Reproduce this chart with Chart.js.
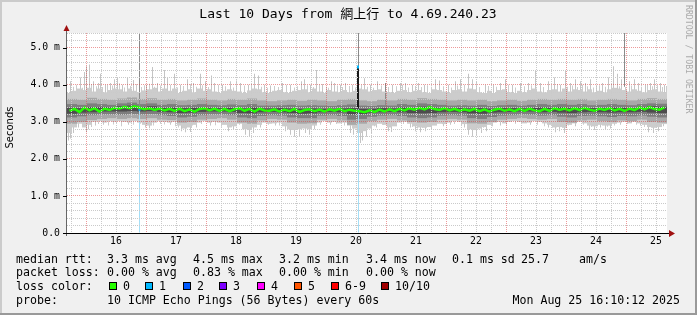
<!DOCTYPE html>
<html>
<head>
<meta charset="utf-8">
<script src="https://cdn.jsdelivr.net/npm/chart.js@4.4.1/dist/chart.umd.min.js"></script>
<style>
  html, body { margin: 0; padding: 0; background: #f0f0f0; }
  canvas { display: block; }
</style>
</head>
<body>
<canvas id="ping" width="697" height="315"></canvas>
<script>
// time is in hours from Aug 15 00:00; the graph runs Aug 15 16:24 .. Aug 25 16:24
let tStart = 16.4,
  tEnd = 256.4;

// median rtt (ms), one value per 2 h column
let median = [
  3.30, 3.35, 3.27, 3.39, 3.31, 3.37, 3.28, 3.36, 3.32, 3.38,
  3.36, 3.41, 3.37, 3.42, 3.38, 3.34, 3.37, 3.32, 3.36, 3.31,
  3.35, 3.30, 3.36, 3.29, 3.34, 3.28, 3.35, 3.37, 3.31, 3.36,
  3.30, 3.35, 3.29, 3.34, 3.37, 3.30, 3.35, 3.28, 3.36, 3.31,
  3.30, 3.34, 3.28, 3.33, 3.29, 3.35, 3.27, 3.32, 3.34, 3.29,
  3.33, 3.28, 3.34, 3.30, 3.35, 3.29, 3.33, 3.30, 3.29, 3.26,
  3.31, 3.27, 3.33, 3.28, 3.34, 3.29, 3.35, 3.31, 3.37, 3.33,
  3.38, 3.34, 3.40, 3.35, 3.32, 3.37, 3.31, 3.35, 3.30, 3.34,
  3.30, 3.35, 3.29, 3.34, 3.28, 3.33, 3.36, 3.30, 3.34, 3.29,
  3.35, 3.30, 3.36, 3.31, 3.29, 3.35, 3.30, 3.37, 3.32, 3.36,
  3.31, 3.37, 3.32, 3.38, 3.33, 3.30, 3.36, 3.32, 3.37, 3.31,
  3.35, 3.30, 3.36, 3.32, 3.39, 3.34, 3.40, 3.35, 3.33, 3.39
];

// outer smoke body, 2 h columns
let smokeMax = [
  3.78, 3.84, 3.90, 3.86, 3.92, 3.82, 3.90, 3.80, 3.86, 3.90,
  3.88, 3.82, 3.90, 3.84, 3.80, 3.85, 3.88, 3.92, 3.82, 3.90,
  3.84, 3.90, 3.78, 3.84, 3.88, 3.80, 3.90, 3.84, 3.88, 3.82,
  3.78, 3.84, 3.88, 3.84, 3.82, 3.78, 3.85, 3.90, 3.88, 3.80,
  3.78, 3.84, 3.86, 3.80, 3.78, 3.84, 3.86, 3.88, 3.80, 3.90,
  3.82, 3.78, 3.86, 3.82, 3.80, 3.86, 3.80, 3.84, 3.90, 3.88,
  3.82, 3.86, 3.88, 3.82, 3.80, 3.78, 3.84, 3.86, 3.80, 3.84,
  3.86, 3.80, 3.78, 3.88, 3.86, 3.82, 3.78, 3.86, 3.88, 3.82,
  3.90, 3.88, 3.80, 3.78, 3.84, 3.78, 3.86, 3.88, 3.80, 3.78,
  3.84, 3.80, 3.86, 3.90, 3.82, 3.80, 3.86, 3.88, 3.82, 3.90,
  3.82, 3.88, 3.86, 3.82, 3.88, 3.80, 3.84, 3.80, 3.88, 3.92,
  3.90, 3.86, 3.82, 3.88, 3.84, 3.80, 3.86, 3.88, 3.82, 3.80
];
let smokeMin = [
  2.70, 2.85, 2.95, 2.85, 2.92, 3.00, 3.02, 2.98, 3.02, 3.00,
  3.02, 3.00, 2.98, 3.02, 2.98, 2.92, 2.90, 2.98, 3.02, 3.00,
  2.98, 3.00, 2.90, 2.82, 2.85, 2.92, 2.98, 3.02, 2.98, 3.00,
  2.98, 2.92, 2.85, 2.88, 2.95, 2.80, 2.78, 2.85, 2.92, 2.98,
  2.95, 2.96, 2.98, 2.88, 2.80, 2.78, 2.80, 2.82, 2.80, 2.90,
  2.98, 3.02, 2.98, 3.00, 2.96, 2.98, 2.90, 2.82, 2.70, 2.75,
  2.82, 2.90, 2.95, 2.92, 2.85, 2.88, 2.98, 3.00, 2.95, 2.88,
  2.85, 2.84, 2.86, 2.90, 2.95, 2.94, 2.98, 3.02, 3.00, 2.94,
  2.80, 2.78, 2.82, 2.86, 2.92, 2.98, 3.00, 2.96, 3.00, 3.02,
  3.00, 2.96, 2.98, 3.02, 3.00, 2.96, 2.92, 2.85, 2.86, 2.84,
  2.92, 2.96, 3.00, 2.96, 2.90, 2.88, 2.92, 2.90, 2.90, 2.95,
  2.98, 3.00, 2.96, 3.00, 2.96, 2.92, 2.86, 2.84, 2.86, 2.94
];

// inner smoke bands, 4 h columns
let band2Hi = [
  3.62, 3.60, 3.65, 3.62, 3.60, 3.63, 3.66, 3.62, 3.64, 3.60,
  3.62, 3.58, 3.60, 3.63, 3.60, 3.58, 3.62, 3.60, 3.63, 3.58,
  3.56, 3.58, 3.60, 3.57, 3.60, 3.58, 3.56, 3.60, 3.62, 3.58,
  3.56, 3.60, 3.58, 3.62, 3.60, 3.64, 3.62, 3.60, 3.58, 3.60,
  3.58, 3.60, 3.56, 3.58, 3.60, 3.57, 3.60, 3.62, 3.60, 3.62,
  3.60, 3.62, 3.58, 3.60, 3.62, 3.60, 3.58, 3.62, 3.64, 3.62
];
let band2Lo = [
  2.95, 3.00, 3.05, 3.08, 3.10, 3.08, 3.10, 3.08, 3.10, 3.06,
  3.05, 2.98, 3.00, 3.06, 3.08, 3.10, 3.06, 2.98, 2.95, 3.04,
  3.08, 3.06, 2.98, 2.95, 2.96, 3.06, 3.08, 3.04, 2.92, 2.95,
  3.02, 3.06, 3.08, 3.04, 3.00, 2.98, 3.00, 3.06, 3.08, 3.06,
  2.96, 2.95, 3.00, 3.06, 3.08, 3.10, 3.08, 3.06, 3.08, 3.00,
  2.98, 3.04, 3.06, 3.02, 3.00, 3.04, 3.02, 3.06, 3.00, 2.98
];
let band3Hi = [
  3.48, 3.46, 3.50, 3.48, 3.46, 3.50, 3.52, 3.48, 3.50, 3.46,
  3.48, 3.45, 3.46, 3.48, 3.46, 3.45, 3.47, 3.45, 3.48, 3.44,
  3.44, 3.45, 3.46, 3.44, 3.45, 3.44, 3.43, 3.45, 3.47, 3.44,
  3.43, 3.45, 3.44, 3.48, 3.46, 3.50, 3.48, 3.46, 3.44, 3.45,
  3.44, 3.46, 3.43, 3.45, 3.46, 3.44, 3.46, 3.48, 3.46, 3.48,
  3.46, 3.48, 3.45, 3.46, 3.48, 3.46, 3.45, 3.48, 3.50, 3.49
];
let band3Lo = [
  3.12, 3.15, 3.18, 3.20, 3.20, 3.19, 3.21, 3.20, 3.21, 3.18,
  3.16, 3.12, 3.14, 3.18, 3.20, 3.20, 3.18, 3.12, 3.10, 3.16,
  3.18, 3.17, 3.12, 3.10, 3.10, 3.17, 3.18, 3.16, 3.06, 3.08,
  3.14, 3.17, 3.18, 3.16, 3.12, 3.10, 3.12, 3.17, 3.18, 3.17,
  3.10, 3.08, 3.13, 3.17, 3.18, 3.20, 3.19, 3.17, 3.18, 3.14,
  3.12, 3.16, 3.17, 3.15, 3.13, 3.16, 3.15, 3.17, 3.14, 3.12
];
let band4Hi = [
  3.38, 3.37, 3.40, 3.40, 3.39, 3.42, 3.44, 3.40, 3.42, 3.38,
  3.39, 3.37, 3.38, 3.39, 3.38, 3.37, 3.38, 3.36, 3.39, 3.36,
  3.36, 3.37, 3.36, 3.35, 3.36, 3.35, 3.34, 3.36, 3.37, 3.35,
  3.35, 3.37, 3.36, 3.39, 3.38, 3.41, 3.39, 3.37, 3.36, 3.37,
  3.36, 3.37, 3.35, 3.37, 3.37, 3.36, 3.38, 3.39, 3.38, 3.40,
  3.38, 3.39, 3.37, 3.38, 3.39, 3.38, 3.37, 3.40, 3.42, 3.41
];
let band4Lo = [
  3.22, 3.25, 3.26, 3.28, 3.28, 3.28, 3.29, 3.28, 3.29, 3.27,
  3.26, 3.24, 3.25, 3.27, 3.28, 3.28, 3.27, 3.24, 3.23, 3.26,
  3.27, 3.26, 3.24, 3.22, 3.23, 3.26, 3.27, 3.26, 3.20, 3.21,
  3.25, 3.26, 3.27, 3.26, 3.24, 3.23, 3.24, 3.26, 3.27, 3.26,
  3.23, 3.22, 3.25, 3.26, 3.27, 3.28, 3.28, 3.26, 3.27, 3.25,
  3.24, 3.26, 3.27, 3.26, 3.25, 3.26, 3.26, 3.27, 3.25, 3.24
];

// single slow pings sticking out of the smoke
let spikeUpTime = [
  17.8, 21.8, 23.4, 24.2, 25.4, 27.0, 29.0, 29.8, 31.8, 33.8,
  35.4, 36.6, 38.6, 40.6, 43.0, 48.2, 50.6, 52.6, 55.4, 56.6,
  59.4, 61.8, 64.6, 67.0, 69.8, 71.8, 74.2, 75.4, 78.6, 81.8,
  84.2, 85.8, 89.0, 91.4, 93.0, 95.4, 97.8, 102.6, 105.8, 110.2,
  111.4, 113.8, 116.2, 118.6, 122.2, 123.4, 125.8, 127.8, 130.6, 135.4,
  137.8, 140.6, 146.6, 149.8, 151.8, 154.6, 157.0, 159.4, 163.8, 165.4,
  169.0, 171.8, 173.8, 177.0, 178.6, 180.2, 183.8, 187.0, 189.8, 191.8,
  194.6, 197.8, 201.0, 203.8, 205.8, 209.0, 211.4, 213.8, 215.8, 217.8,
  219.8, 221.8, 223.8, 225.8, 228.2, 230.6, 233.0, 235.0, 236.6, 238.2,
  241.4, 243.4, 245.0, 247.8, 249.8, 251.4, 253.8, 255.4
];
let spikeUpValue = [
  4.10, 4.20, 4.35, 4.50, 4.55, 4.10, 4.05, 4.30, 4.00, 4.05,
  4.15, 4.20, 4.00, 4.20, 4.13, 4.00, 4.48, 4.05, 4.40, 4.20,
  4.30, 4.00, 4.15, 4.05, 4.30, 4.10, 4.25, 4.05, 4.00, 4.10,
  4.12, 4.05, 4.00, 4.30, 4.25, 4.00, 3.98, 4.05, 4.00, 4.10,
  4.15, 4.00, 4.40, 4.02, 4.10, 4.05, 4.00, 4.05, 4.00, 4.18,
  4.00, 4.10, 4.00, 4.05, 4.05, 4.00, 4.05, 4.00, 4.15, 4.12,
  4.00, 4.10, 4.15, 4.30, 4.15, 4.10, 4.00, 4.00, 4.05, 4.15,
  4.00, 4.05, 4.05, 4.40, 4.05, 4.10, 4.20, 4.00, 4.40, 4.05,
  4.15, 4.10, 4.05, 4.15, 4.00, 4.05, 4.20, 4.50, 4.30, 4.15,
  4.10, 4.15, 4.05, 4.00, 4.05, 4.15, 4.05, 4.00
];
// smaller upward streaks
let streakUpTime = [
  19.0, 20.2, 22.6, 26.2, 28.2, 30.6, 32.6, 34.6, 37.4, 39.4,
  41.8, 44.2, 46.2, 47.4, 49.4, 51.4, 53.8, 57.8, 60.6, 63.0,
  65.8, 68.2, 70.6, 73.0, 77.0, 79.8, 83.0, 87.4, 90.2, 94.2,
  96.6, 99.4, 101.0, 104.2, 107.4, 108.6, 112.6, 115.0, 117.4, 120.2,
  121.0, 124.6, 126.6, 129.4, 131.8, 134.2, 136.6, 139.0, 142.2, 145.0,
  148.2, 150.6, 153.0, 155.8, 158.2, 160.6, 162.2, 167.0, 170.2, 172.6,
  175.4, 181.4, 185.0, 188.2, 193.0, 195.8, 199.4, 202.2, 207.0, 210.2,
  212.6, 216.6, 218.6, 220.6, 222.6, 224.6, 227.0, 229.4, 231.8, 234.2,
  237.4, 239.8, 242.2, 246.2, 248.6, 250.6, 252.6, 254.6, 256.2
];
let streakUpValue = [
  3.95, 4.00, 3.92, 4.02, 3.96, 3.94, 4.00, 3.98, 4.04, 3.93,
  3.97, 4.02, 3.94, 3.99, 4.03, 3.95, 3.98, 4.00, 3.93, 3.97,
  4.02, 3.95, 3.99, 3.94, 4.00, 3.96, 3.93, 3.98, 4.02, 3.95,
  3.92, 3.97, 3.94, 4.00, 3.93, 3.96, 3.99, 3.94, 4.01, 3.95,
  3.92, 3.98, 3.94, 3.97, 3.93, 4.00, 3.95, 3.92, 3.98, 3.94,
  3.96, 4.00, 3.93, 3.97, 3.94, 3.99, 3.95, 3.96, 3.93, 3.98,
  4.00, 3.94, 3.97, 3.95, 4.00, 3.93, 3.96, 3.99, 3.94, 3.97,
  4.02, 3.95, 3.98, 3.94, 4.00, 3.96, 3.93, 3.99, 3.95, 4.02,
  3.96, 3.94, 3.98, 3.95, 4.00, 3.96, 3.99, 3.94, 3.97
];
let spikeDownTime = [
  17.0, 17.8, 19.0, 21.0, 24.2, 25.0, 27.8, 31.0, 36.2, 41.0,
  47.8, 49.4, 53.8, 57.8, 62.2, 63.8, 65.8, 68.2, 73.8, 81.0,
  83.0, 87.8, 89.4, 91.0, 93.8, 99.8, 103.8, 105.8, 107.4, 109.4,
  111.8, 113.4, 115.4, 121.8, 129.8, 131.0, 133.8, 134.6, 136.2, 138.2,
  140.2, 145.0, 146.2, 153.8, 155.8, 157.8, 159.8, 162.2, 167.0, 169.8,
  175.4, 177.0, 178.6, 180.2, 182.2, 184.2, 189.8, 195.8, 201.8, 209.0,
  211.8, 213.4, 215.4, 219.8, 225.4, 227.4, 229.8, 231.8, 233.8, 237.8,
  245.8, 249.0, 251.0, 253.0, 255.0
];
let spikeDownValue = [
  2.50, 2.55, 2.70, 2.85, 2.72, 2.80, 2.90, 2.92, 2.95, 2.92,
  2.85, 2.83, 2.95, 2.92, 2.75, 2.72, 2.73, 2.85, 2.90, 2.75,
  2.78, 2.65, 2.60, 2.70, 2.85, 2.90, 2.75, 2.65, 2.60, 2.62,
  2.70, 2.65, 2.80, 2.92, 2.70, 2.65, 2.43, 2.50, 2.60, 2.70,
  2.85, 2.75, 2.73, 2.85, 2.75, 2.72, 2.75, 2.80, 2.88, 2.92,
  2.85, 2.65, 2.60, 2.62, 2.70, 2.75, 2.90, 2.95, 2.92, 2.85,
  2.72, 2.75, 2.70, 2.88, 2.80, 2.78, 2.85, 2.80, 2.82, 2.92,
  2.90, 2.72, 2.70, 2.75, 2.88
];
// smaller downward streaks
let streakDownTime = [
  18.2, 20.2, 22.6, 26.2, 29.0, 33.0, 35.0, 38.2, 43.0, 45.8,
  51.0, 55.4, 59.8, 61.0, 66.6, 70.2, 75.8, 78.2, 85.4, 88.6,
  92.2, 97.0, 101.4, 104.6, 108.2, 110.6, 114.2, 117.8, 124.2, 127.4,
  132.2, 135.0, 137.0, 139.4, 143.0, 147.8, 151.0, 154.6, 156.6, 158.6,
  161.0, 164.2, 171.4, 174.2, 179.0, 181.0, 183.0, 186.6, 192.2, 198.2,
  204.6, 207.4, 210.6, 214.2, 217.0, 223.0, 226.2, 228.6, 232.6, 235.4,
  240.6, 244.2, 247.4, 250.2, 252.2, 254.2
];
let streakDownValue = [
  2.82, 2.88, 2.92, 2.86, 2.94, 2.90, 2.93, 2.88, 2.92, 2.95,
  2.90, 2.93, 2.88, 2.85, 2.90, 2.94, 2.91, 2.87, 2.92, 2.84,
  2.86, 2.92, 2.90, 2.83, 2.80, 2.86, 2.85, 2.92, 2.94, 2.90,
  2.88, 2.80, 2.82, 2.88, 2.92, 2.90, 2.94, 2.86, 2.82, 2.84,
  2.86, 2.92, 2.94, 2.90, 2.82, 2.80, 2.84, 2.88, 2.93, 2.95,
  2.92, 2.88, 2.85, 2.86, 2.90, 2.92, 2.86, 2.88, 2.87, 2.90,
  2.94, 2.92, 2.86, 2.84, 2.86, 2.90
];

// columns with 1/10 loss and the outliers that go off the top
let lossTime = [45.4, 133.0];
let lossTop = [3.30, 3.34];
let lossMarkTime = [45.4, 132.8];
let lossMarkValue = [3.34, 4.48];
let outlierTime = [45.4, 133.0, 143.8, 239.4];
let outlierLow = [3.38, 4.50, 3.45, 3.95];
let outlierHigh = [5.4, 5.4, 4.05, 5.4];
let jumpTime = [132.8];
let jumpLow = [3.36];
let jumpHigh = [4.48];

let lossColors = ["#26ff00", "#00b8ff", "#0059ff", "#7e00ff", "#ff00ff", "#ff5500", "#ff0000", "#a10000"];
let lossLabels = ["0", "1", "2", "3", "4", "5", "6-9", "10/10"];

let mono = "'DejaVu Sans Mono', 'Noto Sans CJK TC', monospace";
let minorGrid = "#cacaca";
let majorGrid = "rgba(222, 70, 70, 0.55)";

let gridX = [];
for (let h = 18; h <= 256; h += 6) gridX.push(h);
let gridY = [];
for (let k = 0; k <= 27; k++) gridY.push(k / 5);

function cols(lo, hi, first, step) {
  return lo.map((v, i) => ({ x: first + step * i, y: [v, hi[i]] }));
}
function bars(times, lo, hi) {
  return times.map((t, i) => ({ x: t, y: [lo[i], hi[i]] }));
}
function barSet(data, color, width, order) {
  return {
    type: "bar",
    data: data,
    backgroundColor: color,
    borderWidth: 0,
    barThickness: width,
    grouped: false,
    inflateAmount: 0,
    order: order
  };
}
function fill(arr, v) {
  return arr.map(() => v);
}

let chrome = {
  id: "chrome",
  beforeDraw(chart) {
    let c = chart.ctx,
      a = chart.chartArea;
    c.save();
    c.fillStyle = "#f0f0f0";
    c.fillRect(0, 0, 697, 315);
    c.fillStyle = "#cbcbcb";
    c.fillRect(0, 0, 697, 2);
    c.fillRect(0, 0, 2, 315);
    c.fillStyle = "#999999";
    c.fillRect(0, 313, 697, 2);
    c.fillRect(695, 0, 2, 315);
    c.fillStyle = "#ffffff";
    c.fillRect(a.left, a.top, a.right - a.left, a.bottom - a.top);
    c.restore();
  },
  afterDraw(chart) {
    let c = chart.ctx,
      a = chart.chartArea,
      y = chart.scales.y;
    c.save();
    // axes
    c.strokeStyle = "#666";
    c.lineWidth = 1;
    c.beginPath();
    c.moveTo(a.left - 0.5, a.bottom + 3);
    c.lineTo(a.left - 0.5, a.top - 2);
    c.stroke();
    c.strokeStyle = "#000";
    c.beginPath();
    c.moveTo(a.left - 4, a.bottom + 0.5);
    c.lineTo(a.right + 3, a.bottom + 0.5);
    for (let v = 0; v <= 5; v++) {
      let py = Math.round(y.getPixelForValue(v)) + 0.5;
      c.moveTo(a.left - 4, py);
      c.lineTo(a.left, py);
    }
    c.stroke();
    c.fillStyle = "#a01010";
    c.beginPath();
    c.moveTo(a.left - 3.5, a.top - 2);
    c.lineTo(a.left - 0.5, a.top - 8);
    c.lineTo(a.left + 2.5, a.top - 2);
    c.fill();
    c.beginPath();
    c.moveTo(a.right + 2, a.bottom - 3);
    c.lineTo(a.right + 8, a.bottom + 0.5);
    c.lineTo(a.right + 2, a.bottom + 4);
    c.fill();

    c.fillStyle = "#000";
    c.textBaseline = "middle";
    c.textAlign = "center";
    c.font = "13px " + mono;
    c.fillText("Last 10 Days from 網上行 to 4.69.240.23", 348, 14.5);

    c.save();
    c.translate(10.5, 127.5);
    c.rotate(-Math.PI / 2);
    c.font = "10px 'DejaVu Sans'";
    c.fillText("Seconds", 0, 0);
    c.restore();

    c.save();
    c.translate(688.5, 5);
    c.rotate(Math.PI / 2);
    c.textAlign = "left";
    c.fillStyle = "#aaaaaa";
    c.font = "8.2px " + mono;
    c.fillText("RRDTOOL / TOBI OETIKER", 0, 0);
    c.restore();

    // legend
    c.textAlign = "left";
    c.font = "11.6px " + mono;
    let rows = [
      [259.5, [[16, "median rtt:"], [107, "3.3 ms avg"], [193, "4.5 ms max"], [279, "3.2 ms min"], [366, "3.4 ms now"], [452, "0.1 ms sd"], [521, "25.7"], [579, "am/s"]]],
      [273, [[16, "packet loss:"], [107, "0.00 % avg"], [193, "0.83 % max"], [279, "0.00 % min"], [366, "0.00 % now"]]],
      [286.5, [[16, "loss color:"]]],
      [301, [[16, "probe:"], [107, "10 ICMP Echo Pings (56 Bytes) every 60s"]]]
    ];
    rows.forEach(r => r[1].forEach(p => c.fillText(p[1], p[0], r[0])));
    let boxX = [109, 145, 183, 219, 257, 294, 331, 381];
    lossColors.forEach((col, i) => {
      c.fillStyle = col;
      c.fillRect(boxX[i], 282, 8, 8);
      c.strokeStyle = "#000";
      c.strokeRect(boxX[i] + 0.5, 282.5, 7, 7);
      c.fillStyle = "#000";
      c.fillText(lossLabels[i], boxX[i] + 14, 286.5);
    });
    c.textAlign = "right";
    c.fillText("Mon Aug 25 16:10:12 2025", 680, 301);
    c.restore();
  }
};

let config = {
  type: "bar",
  data: {
    datasets: [
      {
        type: "line",
        data: median.map((v, i) => ({ x: tStart + 1 + 2 * i, y: v })),
        borderColor: "#22ff00",
        borderWidth: 2.5,
        pointRadius: 0,
        tension: 0,
        order: 0
      },
      barSet(bars(lossMarkTime, lossMarkValue.map(v => v - 0.04), lossMarkValue.map(v => v + 0.04)), "#00b8ff", 2, 1),
      barSet(bars(jumpTime, jumpLow, jumpHigh), "#1a1a1a", 2, 2),
      barSet(bars(lossTime, fill(lossTime, 0), lossTop), "#a4def6", 1, 3),
      barSet(bars(outlierTime, outlierLow, outlierHigh), "#8a8a8a", 1, 4),
      barSet(cols(band4Lo, band4Hi, tStart + 2, 4), "#4c4c4c", 10, 5),
      barSet(cols(band3Lo, band3Hi, tStart + 2, 4), "#7e7e7e", 10, 6),
      barSet(cols(band2Lo, band2Hi, tStart + 2, 4), "#a8a8a8", 10, 7),
      barSet(cols(smokeMin, smokeMax, tStart + 1, 2), "#cccccc", 5, 8),
      barSet(bars(spikeUpTime, fill(spikeUpTime, 3.7), spikeUpValue), "#c4c4c4", 1, 9),
      barSet(bars(streakUpTime, fill(streakUpTime, 3.7), streakUpValue), "#cccccc", 1, 9),
      barSet(bars(spikeDownTime, spikeDownValue, fill(spikeDownTime, 3.1)), "#c4c4c4", 1, 9),
      barSet(bars(streakDownTime, streakDownValue, fill(streakDownTime, 3.1)), "#cccccc", 1, 9)
    ]
  },
  options: {
    responsive: false,
    animation: false,
    layout: { padding: { left: 0, top: 33, right: 30, bottom: 0 } },
    plugins: { legend: { display: false }, title: { display: false }, tooltip: { enabled: false } },
    scales: {
      x: {
        type: "linear",
        min: tStart,
        max: tEnd,
        bounds: "data",
        offset: false,
        afterBuildTicks: s => { s.ticks = gridX.map(v => ({ value: v })); },
        afterFit: s => { s.height = 82; },
        grid: {
          offset: false,
          drawTicks: false,
          z: 1,
          color: ctx => (ctx.tick && ctx.tick.value % 24 === 0 ? majorGrid : minorGrid)
        },
        border: { display: false, dash: [1, 1] },
        ticks: {
          autoSkip: false,
          maxRotation: 0,
          padding: 3,
          color: "#000",
          font: { family: mono, size: 9.8 },
          callback: v => (v % 24 === 12 ? String(15 + (v - 12) / 24) : "")
        }
      },
      y: {
        type: "linear",
        min: 0,
        max: 5.4,
        bounds: "data",
        afterBuildTicks: s => { s.ticks = gridY.map(v => ({ value: v })); },
        afterFit: s => { s.width = 67; },
        grid: {
          drawTicks: false,
          z: 1,
          color: ctx => (ctx.tick && Math.abs(ctx.tick.value - Math.round(ctx.tick.value)) < 1e-6 ? majorGrid : minorGrid)
        },
        border: { display: false, dash: [1, 1] },
        ticks: {
          autoSkip: false,
          padding: 7,
          color: "#000",
          font: { family: mono, size: 9.8 },
          callback: v => (Math.abs(v - Math.round(v)) < 1e-6 ? (v === 0 ? "0.0" : v.toFixed(1) + " m") : "")
        }
      }
    }
  },
  plugins: [chrome]
};

window.onload = function() {
  let ctx = document.getElementById("ping").getContext("2d");
  window.chart = new Chart(ctx, config);
};
</script>
</body>
</html>
